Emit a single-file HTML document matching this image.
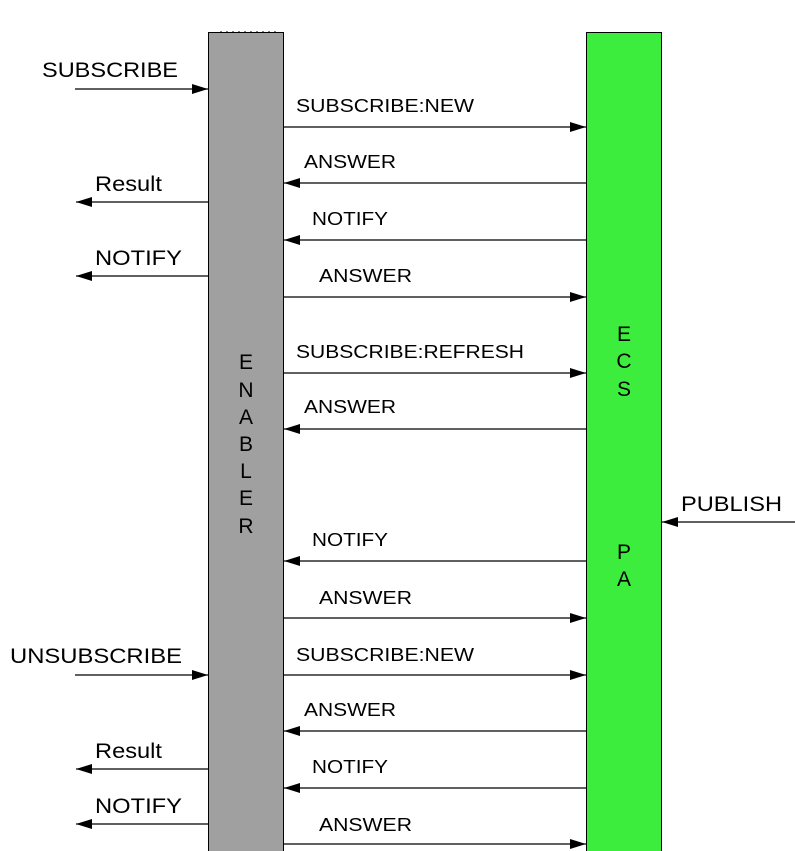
<!DOCTYPE html>
<html><head><meta charset="utf-8"><style>
html,body{margin:0;padding:0;background:#fff;}
svg{display:block;}
text{font-family:"Liberation Sans",Arial,sans-serif;fill:#000;}
</style></head><body>
<svg width="795" height="851" viewBox="0 0 795 851" xmlns="http://www.w3.org/2000/svg">
<defs>
<marker id="a" markerWidth="16" markerHeight="10" refX="16" refY="5" orient="auto" markerUnits="userSpaceOnUse">
<path d="M0,0 L16,5 L0,10 Z" fill="#000"/>
</marker>
</defs>
<rect x="208.5" y="32.5" width="75" height="830" fill="#a0a0a0" stroke="#000" stroke-width="1"/>
<line x1="220" y1="32" x2="280" y2="32" stroke="#000" stroke-width="1" stroke-dasharray="2,4"/>
<rect x="586.5" y="32.5" width="75" height="830" fill="#3ded3d" stroke="#000" stroke-width="1"/>
<g font-size="21" text-anchor="middle">
<text x="246" y="369">E</text><text x="246" y="397">N</text><text x="246" y="424">A</text>
<text x="246" y="451">B</text><text x="246" y="478">L</text><text x="246" y="505">E</text><text x="246" y="533">R</text>
<text x="624" y="341">E</text><text x="624" y="368">C</text><text x="624" y="396">S</text>
<text x="624" y="559">P</text><text x="624" y="586">A</text>
</g>
<g stroke="#000" stroke-width="1.2" marker-end="url(#a)">
<line x1="283" y1="127" x2="586" y2="127"/>
<line x1="586" y1="183" x2="284" y2="183"/>
<line x1="586" y1="240" x2="284" y2="240"/>
<line x1="283" y1="297" x2="586" y2="297"/>
<line x1="283" y1="373" x2="586" y2="373"/>
<line x1="586" y1="429" x2="284" y2="429"/>
<line x1="586" y1="561" x2="284" y2="561"/>
<line x1="283" y1="618" x2="586" y2="618"/>
<line x1="283" y1="675" x2="586" y2="675"/>
<line x1="586" y1="731" x2="284" y2="731"/>
<line x1="586" y1="788" x2="284" y2="788"/>
<line x1="283" y1="844" x2="586" y2="844"/>
<line x1="75" y1="89" x2="208" y2="89"/>
<line x1="208" y1="202" x2="76" y2="202"/>
<line x1="208" y1="276" x2="76" y2="276"/>
<line x1="75" y1="675" x2="208" y2="675"/>
<line x1="208" y1="769" x2="76" y2="769"/>
<line x1="208" y1="824" x2="76" y2="824"/>
<line x1="795" y1="522" x2="662" y2="522"/>
</g>
<g font-size="18">
<text x="296" y="112" textLength="178" lengthAdjust="spacingAndGlyphs">SUBSCRIBE:NEW</text>
<text x="304" y="168" textLength="92" lengthAdjust="spacingAndGlyphs">ANSWER</text>
<text x="312" y="225" textLength="76" lengthAdjust="spacingAndGlyphs">NOTIFY</text>
<text x="319" y="282" textLength="93" lengthAdjust="spacingAndGlyphs">ANSWER</text>
<text x="296" y="358" textLength="228" lengthAdjust="spacingAndGlyphs">SUBSCRIBE:REFRESH</text>
<text x="304" y="413" textLength="92" lengthAdjust="spacingAndGlyphs">ANSWER</text>
<text x="312" y="546" textLength="76" lengthAdjust="spacingAndGlyphs">NOTIFY</text>
<text x="319" y="604" textLength="93" lengthAdjust="spacingAndGlyphs">ANSWER</text>
<text x="296" y="661" textLength="178" lengthAdjust="spacingAndGlyphs">SUBSCRIBE:NEW</text>
<text x="304" y="716" textLength="92" lengthAdjust="spacingAndGlyphs">ANSWER</text>
<text x="312" y="773" textLength="76" lengthAdjust="spacingAndGlyphs">NOTIFY</text>
<text x="319" y="831" textLength="93" lengthAdjust="spacingAndGlyphs">ANSWER</text>
</g>
<g font-size="21">
<text x="42" y="77" textLength="136" lengthAdjust="spacingAndGlyphs">SUBSCRIBE</text>
<text x="95" y="191" textLength="67" lengthAdjust="spacingAndGlyphs">Result</text>
<text x="95" y="265" textLength="87" lengthAdjust="spacingAndGlyphs">NOTIFY</text>
<text x="10" y="663" textLength="172" lengthAdjust="spacingAndGlyphs">UNSUBSCRIBE</text>
<text x="95" y="758" textLength="67" lengthAdjust="spacingAndGlyphs">Result</text>
<text x="95" y="813" textLength="87" lengthAdjust="spacingAndGlyphs">NOTIFY</text>
<text x="681" y="511" textLength="101" lengthAdjust="spacingAndGlyphs">PUBLISH</text>
</g>
</svg>
</body></html>
